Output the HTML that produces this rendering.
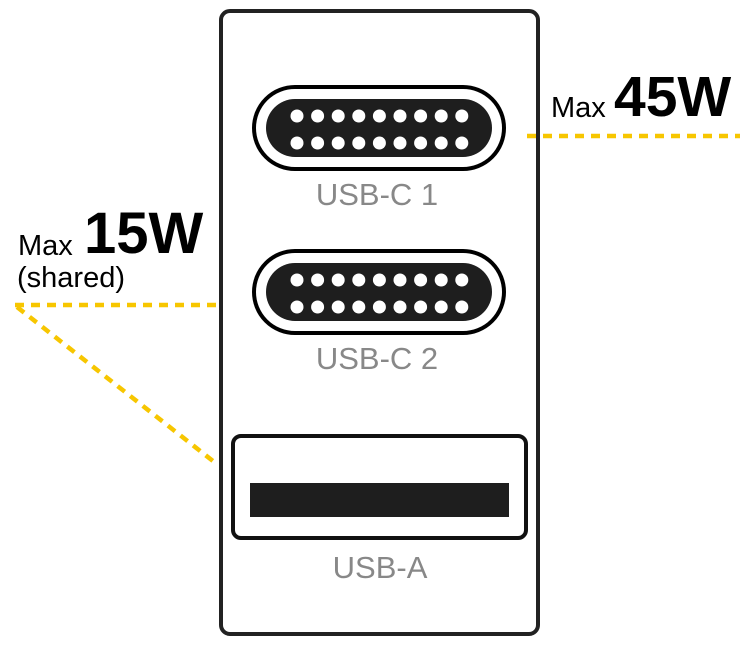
<!DOCTYPE html>
<html><head><meta charset="utf-8"><style>
html,body{margin:0;padding:0;background:#fff;}
svg{display:block;}
</style></head><body>
<svg width="751" height="646" viewBox="0 0 751 646" xmlns="http://www.w3.org/2000/svg" font-family="Liberation Sans, sans-serif">
<rect x="221" y="11" width="317" height="623" rx="9" fill="#fff" stroke="#222" stroke-width="4"/>
<g>
<rect x="254" y="87" width="250" height="82" rx="41" fill="#fff" stroke="#000" stroke-width="4"/>
<rect x="266" y="99" width="226" height="58" rx="29" fill="#1e1e1e"/>
<g fill="#fff">
<circle cx="297" cy="116" r="6.5"/><circle cx="317.6" cy="116" r="6.5"/><circle cx="338.2" cy="116" r="6.5"/><circle cx="358.8" cy="116" r="6.5"/><circle cx="379.4" cy="116" r="6.5"/><circle cx="400" cy="116" r="6.5"/><circle cx="420.6" cy="116" r="6.5"/><circle cx="441.2" cy="116" r="6.5"/><circle cx="461.8" cy="116" r="6.5"/>
<circle cx="297" cy="143" r="6.5"/><circle cx="317.6" cy="143" r="6.5"/><circle cx="338.2" cy="143" r="6.5"/><circle cx="358.8" cy="143" r="6.5"/><circle cx="379.4" cy="143" r="6.5"/><circle cx="400" cy="143" r="6.5"/><circle cx="420.6" cy="143" r="6.5"/><circle cx="441.2" cy="143" r="6.5"/><circle cx="461.8" cy="143" r="6.5"/>
</g>
<text x="377" y="205" font-size="31" fill="#888" text-anchor="middle">USB-C 1</text>
</g>
<g transform="translate(0,164)">
<rect x="254" y="87" width="250" height="82" rx="41" fill="#fff" stroke="#000" stroke-width="4"/>
<rect x="266" y="99" width="226" height="58" rx="29" fill="#1e1e1e"/>
<g fill="#fff">
<circle cx="297" cy="116" r="6.5"/><circle cx="317.6" cy="116" r="6.5"/><circle cx="338.2" cy="116" r="6.5"/><circle cx="358.8" cy="116" r="6.5"/><circle cx="379.4" cy="116" r="6.5"/><circle cx="400" cy="116" r="6.5"/><circle cx="420.6" cy="116" r="6.5"/><circle cx="441.2" cy="116" r="6.5"/><circle cx="461.8" cy="116" r="6.5"/>
<circle cx="297" cy="143" r="6.5"/><circle cx="317.6" cy="143" r="6.5"/><circle cx="338.2" cy="143" r="6.5"/><circle cx="358.8" cy="143" r="6.5"/><circle cx="379.4" cy="143" r="6.5"/><circle cx="400" cy="143" r="6.5"/><circle cx="420.6" cy="143" r="6.5"/><circle cx="441.2" cy="143" r="6.5"/><circle cx="461.8" cy="143" r="6.5"/>
</g>
<text x="377" y="205" font-size="31" fill="#888" text-anchor="middle">USB-C 2</text>
</g>
<rect x="233" y="436" width="293" height="102" rx="8" fill="#fff" stroke="#111" stroke-width="4"/>
<rect x="250" y="483" width="259" height="34" fill="#1e1e1e"/>
<text x="380" y="578" font-size="31" fill="#888" text-anchor="middle">USB-A</text>
<g stroke="#f7c600" stroke-width="4.5" fill="none" stroke-dasharray="9,7">
<line x1="527" y1="136" x2="740" y2="136"/>
<line x1="15" y1="305" x2="222" y2="305"/>
<line x1="17" y1="307" x2="218" y2="465"/>
</g>
<text x="18" y="255" font-size="29" fill="#000">Max</text>
<text x="84" y="253" font-size="58" font-weight="bold" fill="#000">15W</text>
<text x="17" y="287" font-size="29" fill="#000">(shared)</text>
<text x="551" y="117" font-size="29" fill="#000">Max</text>
<text x="614" y="116" font-size="57" font-weight="bold" fill="#000">45W</text>
</svg>
</body></html>
